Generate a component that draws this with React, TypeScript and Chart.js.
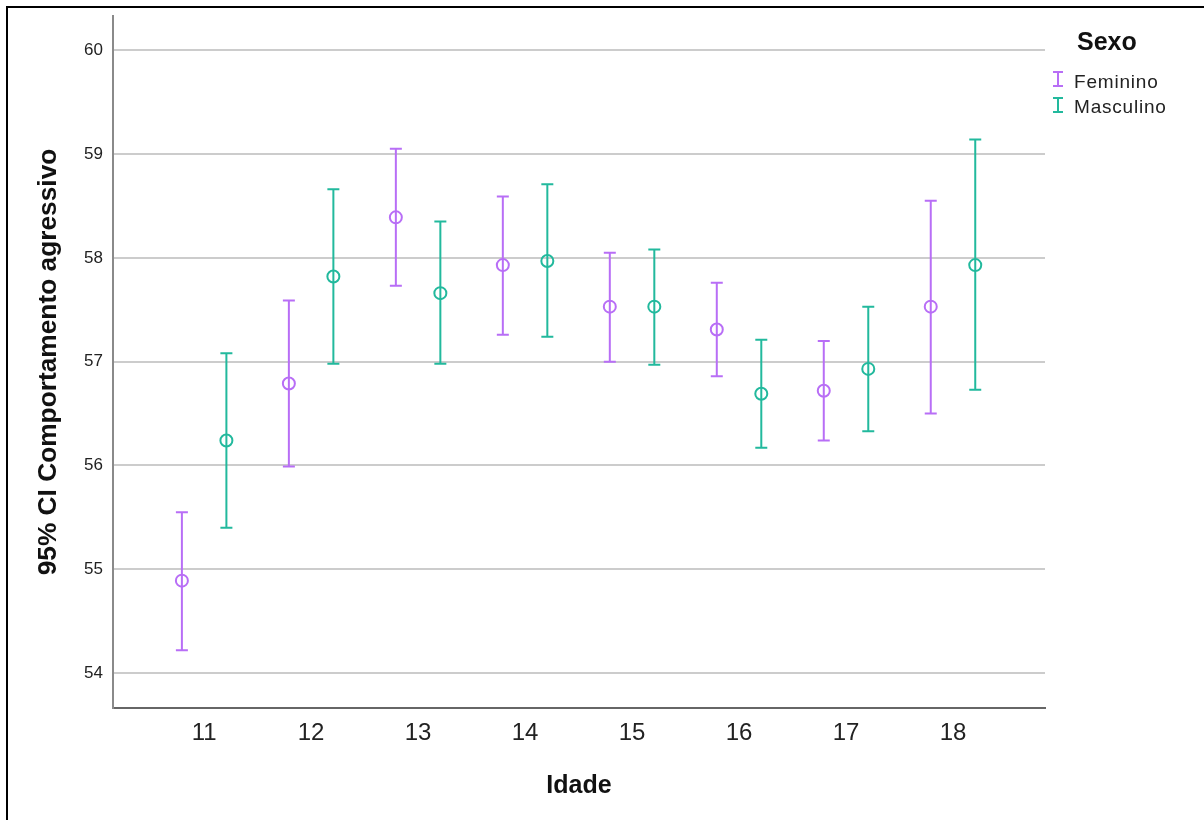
import React, { useEffect, useRef } from "react";
import { Chart, registerables } from "chart.js";

Chart.register(...registerables);

const categories = [11, 12, 13, 14, 15, 16, 17, 18];
const xTickLabels = ["11", "12", "13", "14", "15", "16", "17", "18"];
const yTicks = [54, 55, 56, 57, 58, 59, 60];

const seriesNames = ["Feminino", "Masculino"];
const seriesColors = ["#b86ef6", "#22b99d"];

const femMean = [54.89, 56.79, 58.39, 57.93, 57.53, 57.31, 56.72, 57.53];
const femLow = [54.22, 55.99, 57.73, 57.26, 57.0, 56.86, 56.24, 56.5];
const femHigh = [55.55, 57.59, 59.05, 58.59, 58.05, 57.76, 57.2, 58.55];

const mascMean = [56.24, 57.82, 57.66, 57.97, 57.53, 56.69, 56.93, 57.93];
const mascLow = [55.4, 56.98, 56.98, 57.24, 56.97, 56.17, 56.33, 56.73];
const mascHigh = [57.08, 58.66, 58.35, 58.71, 58.08, 57.21, 57.53, 59.14];

const GROUP_OFFSET = 0.208;

const means = [femMean, mascMean];
const lows = [femLow, mascLow];
const highs = [femHigh, mascHigh];
const offsets = [-GROUP_OFFSET, GROUP_OFFSET];

const errorBarPlugin = {
  id: "errorBars",
  beforeDatasetsDraw(chart: any) {
    const ctx = chart.ctx;
    const xs = chart.scales.x;
    const ys = chart.scales.y;
    ctx.save();
    for (let s = 0; s < means.length; s++) {
      ctx.strokeStyle = seriesColors[s];
      ctx.lineWidth = 2;
      for (let i = 0; i < categories.length; i++) {
        const px = xs.getPixelForValue(categories[i] + offsets[s]);
        const pLow = ys.getPixelForValue(lows[s][i]);
        const pHigh = ys.getPixelForValue(highs[s][i]);
        ctx.beginPath();
        ctx.moveTo(px, pLow);
        ctx.lineTo(px, pHigh);
        ctx.moveTo(px - 6, pLow);
        ctx.lineTo(px + 6, pLow);
        ctx.moveTo(px - 6, pHigh);
        ctx.lineTo(px + 6, pHigh);
        ctx.stroke();
      }
    }
    ctx.restore();
  },
};

export default function App() {
  const ref = useRef<HTMLCanvasElement>(null);

  useEffect(() => {
    if (!ref.current) return;
    const datasets = means.map((m, s) => ({
      label: seriesNames[s],
      data: categories.map((c, i) => ({ x: c + offsets[s], y: m[i] })),
      pointStyle: "circle",
      pointRadius: 6,
      pointBorderWidth: 2,
      pointBorderColor: seriesColors[s],
      pointBackgroundColor: "rgba(0,0,0,0)",
      showLine: false,
    }));
    const chart = new Chart(ref.current, {
      type: "scatter",
      data: { datasets },
      plugins: [errorBarPlugin],
      options: {
        animation: false,
        responsive: false,
        devicePixelRatio: 1,
        layout: { padding: { left: 33, right: 159, top: 16, bottom: 0 } },
        plugins: {
          legend: { display: false },
          tooltip: { enabled: false },
        },
        scales: {
          x: {
            type: "linear",
            min: 10.148,
            max: 18.86,
            afterBuildTicks: (scale: any) => {
              scale.ticks = categories.map((v) => ({ value: v }));
            },
            afterFit: (scale: any) => {
              scale.height = 112;
              scale.paddingLeft = 0;
              scale.paddingRight = 0;
            },
            grid: { display: false, drawTicks: false },
            border: { display: true, color: "#666666", width: 2 },
            ticks: {
              padding: 11,
              color: "#222",
              font: { family: "'Liberation Sans', Arial, sans-serif", size: 24 },
              callback: (v: any) => {
                const idx = categories.indexOf(Number(v));
                return idx >= 0 ? xTickLabels[idx] : "";
              },
            },
            title: {
              display: true,
              text: "Idade",
              color: "#111",
              padding: { top: 0, bottom: 19 },
              font: { family: "'Liberation Sans', Arial, sans-serif", size: 25, weight: "bold" },
            },
          },
          y: {
            type: "linear",
            min: 53.663,
            max: 60.33,
            afterBuildTicks: (scale: any) => {
              scale.ticks = yTicks.map((v) => ({ value: v }));
            },
            afterFit: (scale: any) => {
              scale.width = 80;
              scale.paddingTop = 0;
              scale.paddingBottom = 0;
            },
            grid: { color: "#cccccc", lineWidth: 2, drawTicks: false },
            border: { display: true, color: "#8a8a8a", width: 2 },
            ticks: {
              padding: 10,
              color: "#222",
              font: { family: "'Liberation Sans', Arial, sans-serif", size: 17 },
              callback: (v: any) => String(v),
            },
            title: {
              display: true,
              text: "95% CI Comportamento agressivo",
              color: "#111",
              padding: { top: 0, bottom: 0 },
              font: { family: "'Liberation Sans', Arial, sans-serif", size: 26.3, weight: "bold" },
            },
          },
        },
      } as any,
    });
    return () => chart.destroy();
  }, []);

  const legendFont = "'Liberation Sans', Arial, sans-serif";

  return (
    <div
      style={{
        position: "absolute",
        left: 0,
        top: 0,
        width: 1204,
        height: 820,
        background: "#fff",
        overflow: "hidden",
      }}
    >
      <canvas ref={ref} width={1204} height={820} style={{ position: "absolute", left: 0, top: 0 }} />
      <div style={{ position: "absolute", left: 6, top: 6, width: 1204, height: 2, background: "#000" }} />
      <div style={{ position: "absolute", left: 6, top: 6, width: 2, height: 820, background: "#000" }} />
      <div
        style={{
          position: "absolute",
          left: 1077,
          top: 26,
          fontFamily: legendFont,
          fontWeight: "bold",
          fontSize: 25,
          lineHeight: "30px",
          color: "#111",
        }}
      >
        Sexo
      </div>
      {seriesNames.map((name, s) => (
        <div key={name}>
          <div
            style={{
              position: "absolute",
              left: 1053,
              top: 71 + s * 25.5,
              width: 10,
              height: 16,
            }}
          >
            <div style={{ position: "absolute", left: 0, top: 0, width: 10, height: 2, background: seriesColors[s] }} />
            <div style={{ position: "absolute", left: 4, top: 0, width: 2, height: 16, background: seriesColors[s] }} />
            <div style={{ position: "absolute", left: 0, top: 14, width: 10, height: 2, background: seriesColors[s] }} />
          </div>
          <div
            style={{
              position: "absolute",
              left: 1074,
              top: 70 + s * 25,
              fontFamily: legendFont,
              fontSize: 19,
              letterSpacing: "0.8px",
              lineHeight: "24px",
              color: "#222",
              whiteSpace: "nowrap",
            }}
          >
            {name}
          </div>
        </div>
      ))}
    </div>
  );
}
